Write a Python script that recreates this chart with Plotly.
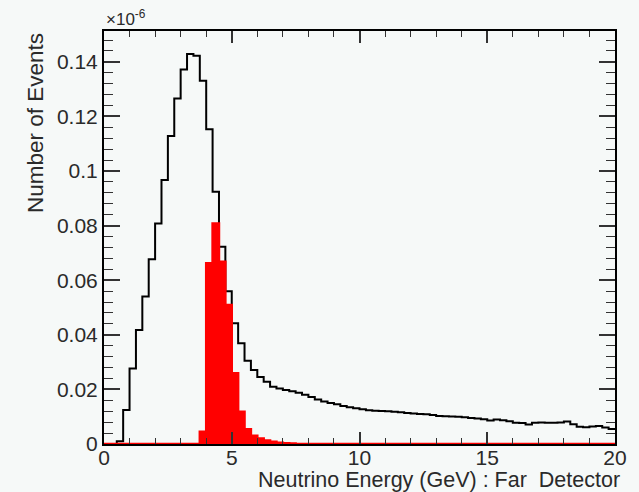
import numpy as np
import plotly.graph_objects as go

# Bin definition (GeV): 80 bins of 0.25 GeV from 0 to 20
bin_width = 0.25
n_bins = 80

# Black histogram (all events), units of 1e-6
all_events = [
    0.0, 0.0, 0.001, 0.0125, 0.0277, 0.0418, 0.054, 0.0677,
    0.0808, 0.0967, 0.1128, 0.1266, 0.1372, 0.1429, 0.1422, 0.1331,
    0.1153, 0.0924, 0.0723, 0.0560, 0.0442, 0.0369, 0.0305, 0.0271,
    0.0245, 0.0228, 0.0210, 0.0203, 0.0198, 0.0193, 0.0188, 0.0180,
    0.0172, 0.0163, 0.0156, 0.0150, 0.0146, 0.0139, 0.0135, 0.0131,
    0.0127, 0.0124, 0.0122, 0.0121, 0.0120, 0.0118, 0.0116, 0.0114,
    0.0112, 0.0110, 0.0109, 0.0106, 0.0103, 0.0102, 0.0101, 0.0100,
    0.0098, 0.0095, 0.0093, 0.0091, 0.0086, 0.0090, 0.0087, 0.0083,
    0.0078, 0.0077, 0.0071, 0.0078, 0.0079, 0.0078, 0.0078, 0.0079,
    0.0082, 0.0072, 0.0063, 0.0061, 0.0064, 0.0066, 0.0060, 0.0055,
]

# Red histogram (selected events), units of 1e-6
selected_events = [0.0] * 15 + [
    0.0045, 0.0662, 0.0808, 0.0668, 0.0509, 0.0259, 0.0118, 0.0054,
    0.0030, 0.0020, 0.0013, 0.0008, 0.0005, 0.0003, 0.0002,
] + [0.0] * 50

x_tickvals = [0, 5, 10, 15, 20]
x_ticktext = ["0", "5", "10", "15", "20"]
y_tickvals = [0, 0.02, 0.04, 0.06, 0.08, 0.10, 0.12, 0.14]
y_ticktext = ["0", "0.02", "0.04", "0.06", "0.08", "0.1", "0.12", "0.14"]

edges = np.arange(n_bins + 1) * bin_width
black_y = list(all_events) + [all_events[-1]]
red_y = list(selected_events) + [selected_events[-1]]

BG = "#f6f9f8"
FONT = "Liberation Sans, Arial, sans-serif"
TXT = "#2a2a2a"

fig = go.Figure()
fig.add_trace(go.Scatter(
    x=edges, y=black_y, mode="lines", line=dict(shape="hv", color="black", width=2),
    hoverinfo="skip", showlegend=False,
))
fig.add_trace(go.Scatter(
    x=edges, y=red_y, mode="lines", line=dict(shape="hv", color="#ff0000", width=2.5),
    fill="tozeroy", fillcolor="#ff0000", hoverinfo="skip", showlegend=False,
))

fig.update_layout(
    width=639, height=492,
    margin=dict(l=104, r=19, t=31, b=48),
    paper_bgcolor=BG, plot_bgcolor=BG,
    font=dict(family=FONT, size=21, color=TXT),
    xaxis=dict(
        range=[0, 20], tickvals=x_tickvals, ticktext=x_ticktext,
        ticks="inside", ticklen=12, tickwidth=1.5, tickcolor="#333",
        minor=dict(dtick=1, ticks="inside", ticklen=6, tickwidth=1.2, tickcolor="#333"),
        showline=True, linecolor="black", linewidth=2, mirror="allticks",
        showgrid=False, zeroline=False, ticklabelstandoff=-6,
        tickfont=dict(size=21, color=TXT),
    ),
    yaxis=dict(
        range=[0, 0.1513], tickvals=y_tickvals, ticktext=y_ticktext,
        ticks="inside", ticklen=16, tickwidth=1.5, tickcolor="#333",
        minor=dict(dtick=0.004, tick0=0, ticks="inside", ticklen=9, tickwidth=1.2, tickcolor="#333"),
        showline=True, linecolor="black", linewidth=2, mirror="allticks",
        showgrid=False, zeroline=False,
        tickfont=dict(size=21, color=TXT),
    ),
    annotations=[
        dict(text="Neutrino Energy (GeV) : Far  Detector", xref="paper", yref="paper",
             x=1.013, y=-0.087, xanchor="right", yanchor="middle", showarrow=False,
             font=dict(size=21.5, color=TXT)),
        dict(text="Number of Events", xref="paper", yref="paper",
             x=-0.135, y=1.0, xanchor="center", yanchor="top", textangle=-90,
             showarrow=False, font=dict(size=22.5, color=TXT)),
        dict(text="×10<sup>-6</sup>", xref="paper", yref="paper",
             x=0.0, y=1.0, xanchor="left", yanchor="bottom", showarrow=False,
             font=dict(size=17, color=TXT)),
    ],
)

fig.write_html("out.html")
